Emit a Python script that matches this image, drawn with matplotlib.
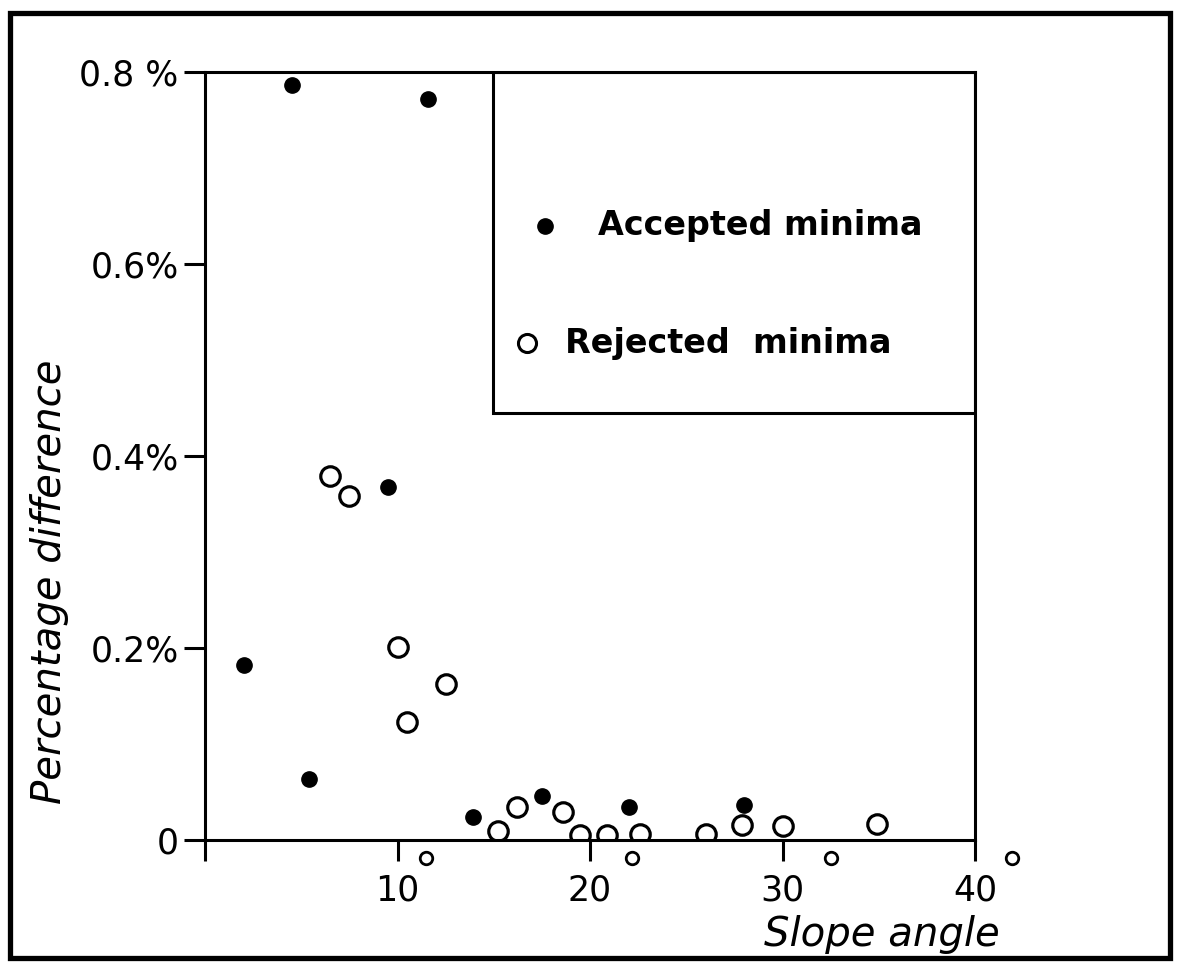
import matplotlib
matplotlib.use("Agg")
import matplotlib.pyplot as plt
from matplotlib.patches import Rectangle

# Slope angle (degrees) and percentage difference for each minimum
accepted_angle = [2.0, 4.5, 5.4, 9.5, 11.6, 13.9, 17.5, 22.0, 28.0]
accepted_diff = [0.182, 0.786, 0.064, 0.368, 0.772, 0.024, 0.046, 0.034, 0.036]

rejected_angle = [6.5, 7.5, 10.0, 10.5, 12.5, 15.2, 16.2, 18.6, 19.5, 20.9,
                  22.6, 26.0, 27.9, 30.0, 34.9]
rejected_diff = [0.379, 0.358, 0.201, 0.123, 0.163, 0.009, 0.034, 0.029, 0.005,
                 0.005, 0.006, 0.006, 0.016, 0.015, 0.017]

x_ticks = [0, 10, 20, 30, 40]
x_tick_labels = ["", "10", "20", "30", "40"]
y_ticks = [0, 0.2, 0.4, 0.6, 0.8]
y_tick_labels = ["0", "0.2%", "0.4%", "0.6%", "0.8 %"]

FONT = "DejaVu Sans"
LW = 2.2

fig = plt.figure(figsize=(11.79, 9.69), dpi=100)
ax = fig.add_axes([205 / 1179, 1 - 840 / 969, 770 / 1179, 768 / 969])

ax.set_xlim(0, 40)
ax.set_ylim(0, 0.8)

ax.plot(rejected_angle, rejected_diff, linestyle="none", marker="o",
        markersize=14, markerfacecolor="white", markeredgecolor="black",
        markeredgewidth=2.3, zorder=3)
ax.plot(accepted_angle, accepted_diff, linestyle="none", marker="o",
        markersize=11, color="black", zorder=4)

for s in ax.spines.values():
    s.set_linewidth(LW)
    s.set_zorder(6)

ax.set_xticks(x_ticks)
ax.set_xticklabels(x_tick_labels, fontfamily=FONT, fontsize=25)
ax.set_yticks(y_ticks)
ax.set_yticklabels(y_tick_labels, fontfamily=FONT, fontsize=25)
ax.tick_params(axis="both", direction="out", length=15, width=LW)
ax.tick_params(axis="x", pad=9)
ax.tick_params(axis="y", pad=4)

# degree marks beside the x tick labels (hand-set offsets from each tick)
degree_offset = [1.5, 2.2, 2.5, 1.9]
for t, off in zip(x_ticks[1:], degree_offset):
    ax.plot([t + off], [-0.019], marker="o", markersize=9,
            markerfacecolor="white", markeredgecolor="black",
            markeredgewidth=2.0, clip_on=False)

# key box in the upper right corner
ax.add_patch(Rectangle((0.374, 0.556), 0.626, 0.444, transform=ax.transAxes,
                       fill=False, linewidth=LW, edgecolor="black", zorder=5))
ax.plot([0.442], [0.80], transform=ax.transAxes, marker="o", markersize=11,
        color="black", clip_on=False)
ax.text(0.511, 0.80, "Accepted minima", transform=ax.transAxes,
        fontfamily=FONT, fontsize=24, fontweight="bold", va="center",
        ha="left")
ax.plot([0.418], [0.647], transform=ax.transAxes, marker="o", markersize=13,
        markerfacecolor="white", markeredgecolor="black", markeredgewidth=2.2,
        clip_on=False)
ax.text(0.467, 0.647, "Rejected  minima", transform=ax.transAxes,
        fontfamily=FONT, fontsize=24, fontweight="bold", va="center",
        ha="left")

fig.text(50 / 1179, 1 - 582 / 969, "Percentage difference", rotation=90,
         fontfamily=FONT, fontstyle="italic", fontsize=29,
         ha="center", va="center")
fig.text(882 / 1179, 1 - 935 / 969, "Slope angle",
         fontfamily=FONT, fontstyle="italic", fontsize=29,
         ha="center", va="center")

# outer frame
fig.patches.append(Rectangle((10 / 1179, 1 - 958 / 969), 1160 / 1179,
                             945 / 969, transform=fig.transFigure,
                             fill=False, linewidth=3.8, edgecolor="black"))

fig.savefig("out.png", dpi=100)
